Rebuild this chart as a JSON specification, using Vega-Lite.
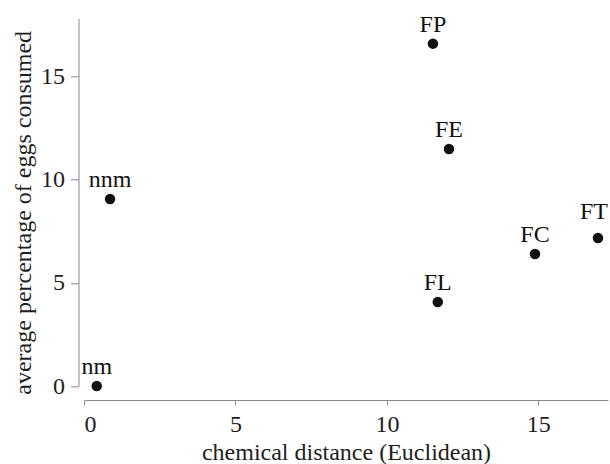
{
  "$schema": "https://vega.github.io/schema/vega-lite/v6.json",
  "autosize": "none",
  "width": 524,
  "height": 367.7,
  "padding": {"left": 84, "top": 18.3, "right": 2, "bottom": 78},
  "background": "white",
  "config": {
    "view": {"stroke": null}
  },
  "data": {
    "values": [
      {"label": "nm", "distance": 0.42, "eggs": 0.0},
      {"label": "nnm", "distance": 0.86, "eggs": 9.07},
      {"label": "FP", "distance": 11.52, "eggs": 16.6},
      {"label": "FE", "distance": 12.05, "eggs": 11.49},
      {"label": "FL", "distance": 11.68, "eggs": 4.07},
      {"label": "FC", "distance": 14.89, "eggs": 6.4},
      {"label": "FT", "distance": 16.97, "eggs": 7.18}
    ]
  },
  "encoding": {
    "x": {
      "field": "distance",
      "type": "quantitative",
      "scale": {"domain": [0, 17.3], "nice": false, "zero": false},
      "axis": {
        "title": "chemical distance (Euclidean)",
        "values": [0, 5, 10, 15],
        "grid": false,
        "offset": 14,
        "tickSize": 5,
        "labelPadding": 7,
        "titlePadding": 4,
        "domainColor": "#8a8a8a",
        "tickColor": "#8a8a8a",
        "labelColor": "#1e1e1e",
        "titleColor": "#1e1e1e",
        "labelFont": "Liberation Serif",
        "titleFont": "Liberation Serif",
        "labelFontSize": 24,
        "titleFontSize": 24,
        "titleFontWeight": "normal"
      }
    },
    "y": {
      "field": "eggs",
      "type": "quantitative",
      "scale": {"domain": [0, 17.83], "nice": false, "zero": false},
      "axis": {
        "title": "average percentage of eggs consumed",
        "values": [0, 5, 10, 15],
        "grid": false,
        "offset": 5.5,
        "tickSize": 8,
        "labelPadding": 6,
        "titlePadding": 5,
        "titleY": 194,
        "domainColor": "#8a8a8a",
        "tickColor": "#8a8a8a",
        "labelColor": "#1e1e1e",
        "titleColor": "#1e1e1e",
        "labelFont": "Liberation Serif",
        "titleFont": "Liberation Serif",
        "labelFontSize": 24,
        "titleFontSize": 24,
        "titleFontWeight": "normal"
      }
    }
  },
  "layer": [
    {
      "mark": {"type": "point", "filled": true, "shape": "circle", "size": 110, "color": "#111111", "opacity": 1}
    },
    {
      "transform": [{"filter": "datum.label != 'FT'"}],
      "mark": {"type": "text", "baseline": "alphabetic", "align": "center", "dy": -12, "fontSize": 24, "font": "Liberation Serif", "color": "#111111"},
      "encoding": {"text": {"field": "label"}}
    },
    {
      "transform": [{"filter": "datum.label == 'FT'"}],
      "mark": {"type": "text", "baseline": "alphabetic", "align": "center", "dx": -4, "dy": -19, "fontSize": 24, "font": "Liberation Serif", "color": "#111111"},
      "encoding": {"text": {"field": "label"}}
    }
  ]
}
